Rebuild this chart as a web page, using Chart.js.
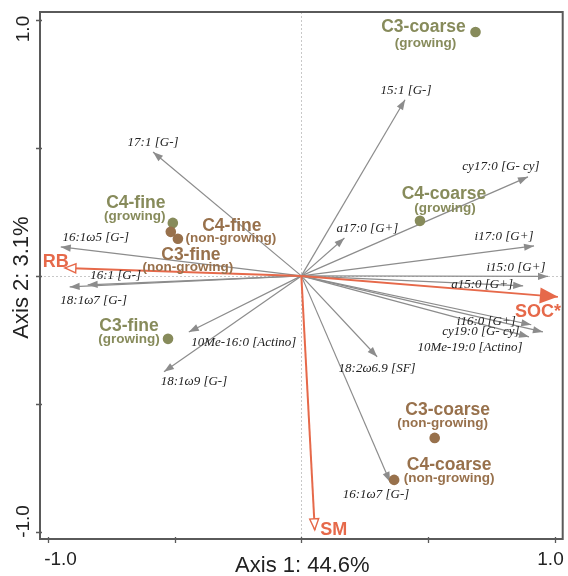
<!DOCTYPE html>
<html>
<head>
<meta charset="utf-8">
<script src="https://cdn.jsdelivr.net/npm/chart.js@4"></script>
<style>
  html, body { margin: 0; padding: 0; background: #fff; }
  #wrap { width: 568px; height: 576px; }
</style>
</head>
<body>
<div id="wrap"><canvas id="rdaChart" width="568" height="576"></canvas></div>
<script>
// fatty acid vectors (arrow tips, axis 1 / axis 2 scores)
const faNames = ['17:1 [G-]', '16:1ω5 [G-]', '16:1 [G-]', '18:1ω7 [G-]', '10Me-16:0 [Actino]', '18:1ω9 [G-]',
  '15:1 [G-]', 'cy17:0 [G- cy]', 'a17:0 [G+]', 'i17:0 [G+]', 'i15:0 [G+]', 'a15:0 [G+]',
  'i16:0 [G+]', 'cy19:0 [G- cy]', '10Me-19:0 [Actino]', '18:2ω6.9 [SF]', '16:1ω7 [G-]'];
const faAxis1 = [-0.585, -0.949, -0.843, -0.914, -0.444, -0.542, 0.409, 0.894, 0.170, 0.918, 0.973, 0.875,
  0.907, 0.953, 0.898, 0.299, 0.350];
const faAxis2 = [0.484, 0.113, -0.035, -0.043, -0.219, -0.375, 0.688, 0.387, 0.148, 0.117, -0.002, -0.039,
  -0.191, -0.219, -0.238, -0.316, -0.805];

// environmental vectors
const envNames = ['RB', 'SOC*', 'SM'];
const envAxis1 = [-0.933, 1.012, 0.053];
const envAxis2 = [0.031, -0.082, -0.992];

// site scores
const siteNames = ['C3-coarse', 'C4-coarse', 'C4-fine', 'C3-fine', 'C4-fine', 'C3-fine', 'C3-coarse', 'C4-coarse'];
const siteStatus = ['growing', 'growing', 'growing', 'growing', 'non-growing', 'non-growing', 'non-growing', 'non-growing'];
const siteAxis1 = [0.687, 0.468, -0.507, -0.526, -0.515, -0.487, 0.526, 0.366];
const siteAxis2 = [0.953, 0.215, 0.207, -0.246, 0.172, 0.145, -0.633, -0.797];

const axisTitles = ['Axis 1: 44.6%', 'Axis 2: 3.1%'];
const tickValues = [-1, -0.5, 0, 0.5, 1];
const tickLabels = ['-1.0', '', '', '', '1.0'];

// label placement, pixel offsets from the mark
const faLabelOffset = [[0, -9], [35, -9], [28, -9], [24, 14], [55, 11], [30, 10], [1, -9], [-27, -10], [23, -9],
  [-30, -9], [-32, -9], [-41, -1], [-45, -3], [-62, 0], [-59, 11], [0, 12], [-14, 13]];
const envLabelOffset = [[-9, -6], [-20, 15], [19, 0]];
const siteLabelOffset = [[-52, -5, -50, 11], [24, -27, 25, -13], [-37, -20, -38, -7], [-39, -13, -39, 0],
  [61, -6, 60, 6], [13, 16, 10, 29], [13, -28, 8, -15], [55, -15, 55, -2]];

const GREY = '#8c8c8c';
const ORANGE = '#e6694a';
const statusColor = { 'growing': '#878b5b', 'non-growing': '#98714c' };

const datasets = [];

datasets.push({
  label: 'sites',
  data: siteAxis1.map((v, i) => ({ x: v, y: siteAxis2[i] })),
  backgroundColor: siteStatus.map(s => statusColor[s]),
  borderWidth: 0,
  pointRadius: 5.3,
  pointHoverRadius: 5.3,
  order: 0
});

envNames.forEach((name, i) => {
  datasets.push({
    label: name,
    data: [{ x: 0, y: 0 }, { x: envAxis1[i], y: envAxis2[i] }],
    showLine: true,
    borderColor: ORANGE,
    borderWidth: 2,
    pointRadius: 0,
    pointHoverRadius: 0,
    order: 1,
    arrow: i == 1 ? { len: 18, half: 8, open: false, color: ORANGE } : { len: 11, half: 4.5, open: true, color: ORANGE }
  });
});

faNames.forEach((name, i) => {
  datasets.push({
    label: name,
    data: [{ x: 0, y: 0 }, { x: faAxis1[i], y: faAxis2[i] }],
    showLine: true,
    borderColor: GREY,
    borderWidth: 1.2,
    pointRadius: 0,
    pointHoverRadius: 0,
    order: 2,
    arrow: { len: 10, half: 3.6, open: false, color: GREY }
  });
});

const biplot = {
  id: 'biplot',
  beforeDatasetsDraw(chart) {
    const { ctx, chartArea: a, scales: { x, y } } = chart;
    const x0 = Math.round(x.getPixelForValue(0)) + 0.5;
    const y0 = Math.round(y.getPixelForValue(0)) + 0.5;
    ctx.save();
    ctx.strokeStyle = '#c8c8c8';
    ctx.lineWidth = 1;
    ctx.setLineDash([2, 2]);
    ctx.beginPath();
    ctx.moveTo(x0, a.top); ctx.lineTo(x0, a.bottom);
    ctx.moveTo(a.left, y0); ctx.lineTo(a.right, y0);
    ctx.stroke();
    ctx.restore();
  },
  afterDatasetDraw(chart, args) {
    const ds = chart.data.datasets[args.index];
    if (!ds.arrow) return;
    const p0 = args.meta.data[0], p1 = args.meta.data[1];
    const ang = Math.atan2(p1.y - p0.y, p1.x - p0.x);
    const h = ds.arrow;
    const ctx = chart.ctx;
    ctx.save();
    ctx.translate(p1.x, p1.y);
    ctx.rotate(ang);
    ctx.beginPath();
    ctx.moveTo(0, 0);
    ctx.lineTo(-h.len, -h.half);
    ctx.lineTo(-h.len, h.half);
    ctx.closePath();
    if (h.open) {
      ctx.fillStyle = '#fff';
      ctx.fill();
      ctx.strokeStyle = h.color;
      ctx.lineWidth = 1.4;
      ctx.stroke();
    } else {
      ctx.fillStyle = h.color;
      ctx.fill();
    }
    ctx.restore();
  },
  afterDraw(chart) {
    const { ctx, chartArea: a, scales: { x, y } } = chart;
    ctx.save();
    ctx.textAlign = 'center';
    ctx.textBaseline = 'middle';

    // fatty acid labels
    ctx.font = 'italic 13px "Liberation Serif"';
    ctx.fillStyle = '#222';
    faNames.forEach((name, i) => {
      const px = x.getPixelForValue(faAxis1[i]), py = y.getPixelForValue(faAxis2[i]);
      ctx.fillText(name, px + faLabelOffset[i][0], py + faLabelOffset[i][1]);
    });

    // environment labels
    ctx.font = 'bold 18px "Liberation Sans"';
    ctx.fillStyle = ORANGE;
    envNames.forEach((name, i) => {
      const px = x.getPixelForValue(envAxis1[i]), py = y.getPixelForValue(envAxis2[i]);
      ctx.fillText(name, px + envLabelOffset[i][0], py + envLabelOffset[i][1]);
    });

    // site labels
    siteNames.forEach((name, i) => {
      const px = x.getPixelForValue(siteAxis1[i]), py = y.getPixelForValue(siteAxis2[i]);
      const o = siteLabelOffset[i];
      ctx.fillStyle = statusColor[siteStatus[i]];
      ctx.font = 'bold 17.5px "Liberation Sans"';
      ctx.fillText(name, px + o[0], py + o[1]);
      ctx.font = 'bold 13.5px "Liberation Sans"';
      ctx.fillText('(' + siteStatus[i] + ')', px + o[2], py + o[3]);
    });

    // frame
    ctx.strokeStyle = '#5a5a5a';
    ctx.lineWidth = 2;
    ctx.strokeRect(a.left, a.top, a.right - a.left, a.bottom - a.top);

    // tick marks and labels
    ctx.lineWidth = 1.3;
    ctx.fillStyle = '#222';
    ctx.font = '19px "Liberation Sans"';
    tickValues.forEach((v, i) => {
      const px = Math.round(x.getPixelForValue(v)) + 0.5;
      const py = Math.round(y.getPixelForValue(v)) + 0.5;
      ctx.beginPath();
      ctx.moveTo(px, a.bottom - 2); ctx.lineTo(px, a.bottom + 4);
      ctx.moveTo(a.left - 4, py); ctx.lineTo(a.left + 2, py);
      ctx.stroke();
      if (!tickLabels[i]) return;
      ctx.textBaseline = 'alphabetic';
      ctx.fillText(tickLabels[i], px + (v < 0 ? 12 : -5), a.bottom + 26);
      ctx.save();
      ctx.translate(a.left - 11, py + (v < 0 ? -11 : 8.5));
      ctx.rotate(-Math.PI / 2);
      ctx.fillText(tickLabels[i], 0, 0);
      ctx.restore();
    });

    // axis titles
    ctx.font = '22px "Liberation Sans"';
    ctx.textBaseline = 'alphabetic';
    ctx.fillText(axisTitles[0], (a.left + a.right) / 2 + 1, a.bottom + 33);
    ctx.save();
    ctx.translate(a.left - 12, (a.top + a.bottom) / 2 + 2);
    ctx.rotate(-Math.PI / 2);
    ctx.fillText(axisTitles[1], 0, 0);
    ctx.restore();

    ctx.restore();
  }
};

new Chart(document.getElementById('rdaChart'), {
  type: 'scatter',
  data: { datasets: datasets },
  options: {
    responsive: false,
    animation: false,
    events: [],
    layout: { padding: { left: 40, right: 1, top: 12, bottom: 37 } },
    plugins: { legend: { display: false }, tooltip: { enabled: false } },
    scales: {
      x: { type: 'linear', min: -1.031, max: 1.031, display: false },
      y: { type: 'linear', min: -1.028, max: 1.031, display: false }
    }
  },
  plugins: [biplot]
});
</script>
</body>
</html>
